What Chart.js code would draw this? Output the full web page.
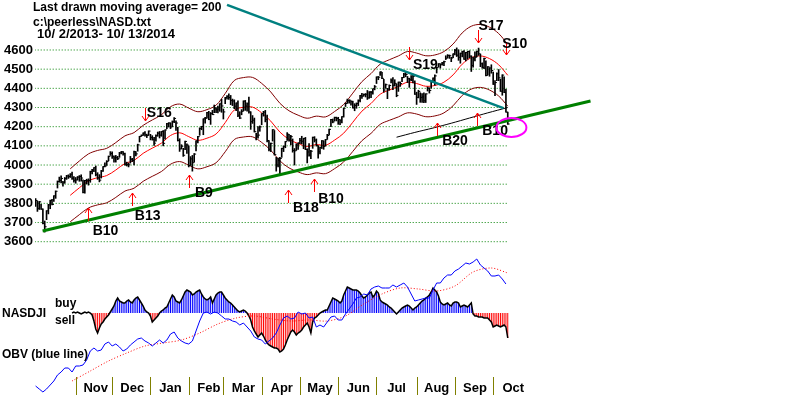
<!DOCTYPE html>
<html>
<head>
<meta charset="utf-8">
<title>NASD Peerless chart</title>
<script src="https://cdn.jsdelivr.net/npm/chart.js@4.4.1/dist/chart.umd.min.js"></script>
<style>
html,body{margin:0;padding:0;background:#ffffff;overflow:hidden;}
#box{position:relative;width:800px;height:395px;}
canvas{display:block;}
</style>
</head>
<body>
<div id="box"><canvas id="chart" width="800" height="395"></canvas></div>
<script>
// ---------------- DATA ----------------
const headerLines = ['Last drawn moving average= 200', 'c:\\peerless\\NASD.txt', '10/ 2/2013- 10/ 13/2014'];
const priceTicks = [3600,3700,3800,3900,4000,4100,4200,4300,4400,4500,4600];
const monthNames = ['Nov','Dec','Jan','Feb','Mar','Apr','May','Jun','Jul','Aug','Sep','Oct'];
const monthStartDay = [22,42,63,84,103,124,145,166,187,209,230,251];

// daily NASDAQ closes (trading day 0 = 10/2/2013)
const closes = [
3815,3774,3808,3770,3695,3678,3761,3792,3815,3794,3839,3863,3914,3920,3930,3907,3929,3943,3940,3952,3931,3920,
3922,3937,3940,3932,3857,3919,3920,3920,3966,3973,3986,3949,3932,3921,3969,3992,3995,4018,4045,4060,
4045,4037,4038,4033,4063,4069,4060,4004,4002,4001,4030,4024,4070,4058,4105,4149,4155,4167,4157,4154,4177,
4143,4132,4114,4153,4166,4156,4175,4113,4183,4215,4219,4198,4226,4243,4219,4128,4084,4098,4051,4123,4104,
3997,4032,4012,4057,4126,4148,4191,4201,4241,4244,4273,4238,4268,4263,4293,4288,4292,4319,4308,
4277,4352,4358,4352,4336,4334,4307,4323,4260,4245,4280,4333,4308,4319,4277,4226,4234,4174,4151,4156,4199,
4268,4276,4238,4128,4080,4113,4184,4054,4000,4023,4034,4086,4096,4122,4161,4127,4148,4076,4074,4104,4115,
4127,4124,4138,4081,4068,4052,4072,4144,4130,4101,4069,4091,4126,4097,4132,4154,4186,4237,4225,4248,4243,
4237,4234,4252,4296,4321,4336,4338,4332,4298,4311,4321,4337,4363,4359,4368,4369,4350,4380,4379,4398,4408,
4459,4458,4486,4452,4391,4419,4396,4415,4440,4416,4426,4363,4432,4425,4456,4474,4472,4450,4445,4443,4463,4370,
4353,4384,4353,4355,4335,4371,4401,4389,4434,4453,4465,4508,4528,4526,4532,4539,4557,4571,4570,4558,4580,
4598,4573,4562,4583,4592,4552,4587,4592,4568,4519,4553,4562,4593,4580,4528,4509,4555,4467,4512,4506,4493,
4422,4430,4476,4455,4385,4469,4378,4276,4214];

const highs = [
3825,3812,3810,3795,3771,3708,3762,3795,3817,3821,3840,3865,3917,3937,3943,3915,3935,3946,3949,3955,3963,3940,
3935,3940,3945,3949,3923,3920,3926,3928,3968,3977,3987,3995,3960,3950,3972,3992,4011,4023,4047,4070,
4069,4048,4050,4045,4066,4071,4070,4062,4015,4010,4045,4035,4073,4070,4109,4150,4157,4168,4175,4161,4178,
4160,4153,4145,4157,4172,4175,4175,4180,4183,4217,4221,4220,4230,4247,4231,4197,4137,4106,4087,4125,4110,
4100,4044,4050,4060,4126,4150,4194,4202,4241,4249,4275,4280,4274,4285,4313,4299,4307,4320,4343,
4292,4353,4362,4371,4363,4344,4340,4324,4335,4278,4289,4335,4337,4325,4354,4278,4258,4245,4166,4201,4204,
4268,4280,4285,4260,4127,4115,4185,4180,4040,4036,4040,4088,4100,4123,4169,4160,4155,4136,4086,4111,4116,
4139,4150,4140,4144,4085,4112,4077,4146,4148,4136,4102,4093,4128,4126,4134,4160,4187,4238,4240,4250,4250,
4249,4236,4253,4297,4323,4344,4340,4335,4333,4320,4324,4340,4364,4374,4371,4373,4389,4383,4384,4398,4415,
4460,4462,4486,4484,4447,4423,4400,4418,4450,4456,4445,4423,4433,4433,4458,4478,4486,4462,4453,4466,4474,4439,
4380,4390,4377,4373,4376,4372,4407,4403,4437,4455,4470,4510,4529,4527,4536,4542,4570,4576,4574,4562,4580,
4604,4611,4601,4584,4594,4597,4588,4593,4596,4570,4563,4590,4594,4610,4579,4533,4558,4543,4514,4508,4523,
4485,4440,4481,4498,4448,4471,4460,4395,4276];

const lows = [
3784,3758,3768,3768,3693,3650,3715,3745,3772,3792,3810,3826,3880,3910,3906,3890,3905,3925,3930,3935,3925,3910,
3905,3922,3915,3916,3855,3853,3902,3895,3910,3953,3965,3943,3925,3912,3932,3966,3990,3998,4022,4050,
4035,4015,4015,4028,4040,4058,4052,3999,3995,3990,4010,4018,4000,4048,4072,4120,4150,4155,4150,4143,4155,
4131,4130,4102,4125,4150,4141,4150,4100,4135,4190,4198,4190,4200,4221,4180,4125,4071,4084,4045,4080,4060,
3990,3998,3968,4015,4074,4115,4155,4184,4158,4218,4245,4236,4212,4263,4273,4273,4272,4280,4275,
4240,4320,4344,4342,4315,4310,4294,4283,4252,4242,4262,4282,4285,4281,4271,4186,4217,4172,4131,4140,4176,
4210,4255,4225,4121,4073,4070,4125,4052,3968,3990,3946,4040,4070,4090,4128,4125,4105,4067,4000,4076,4082,
4111,4110,4085,4080,4011,4046,4033,4087,4120,4099,4036,4058,4086,4082,4100,4134,4157,4200,4220,4230,4230,
4212,4211,4220,4250,4305,4322,4322,4312,4297,4283,4296,4310,4329,4347,4360,4355,4342,4348,4351,4369,4392,
4425,4445,4467,4450,4380,4400,4346,4390,4428,4393,4412,4356,4384,4410,4435,4455,4460,4430,4405,4440,4428,4368,
4316,4350,4327,4326,4325,4326,4386,4375,4401,4433,4416,4480,4512,4505,4521,4518,4550,4559,4556,4539,4560,
4574,4566,4546,4531,4564,4551,4543,4552,4560,4488,4511,4543,4564,4572,4513,4505,4502,4465,4470,4463,4479,
4420,4362,4440,4440,4384,4364,4377,4276,4212];

// 21-day moving average and its bands, read every 5 trading days
const bandDays = [19,24,29,34,39,44,49,54,59,64,69,74,79,84,89,94,99,104,109,114,119,124,129,134,139,144,149,154,159,164,169,174,179,184,189,194,199,204,209,214,219,224,229,234,239,244,249,254,259];
const maMid = [3842,3881,3917,3934,3945,3974,4008,4024,4061,4088,4114,4154,4168,4148,4129,4140,4162,4221,4287,4301,4302,4272,4229,4172,4134,4112,4097,4107,4103,4130,4166,4223,4281,4321,4369,4391,4410,4432,4425,4411,4415,4432,4470,4526,4560,4569,4555,4523,4468];
const bandUpper = [3980,4021,4058,4076,4087,4117,4152,4169,4207,4235,4262,4304,4318,4297,4278,4289,4312,4373,4441,4456,4457,4426,4381,4322,4283,4260,4244,4255,4251,4279,4316,4375,4435,4477,4526,4549,4569,4592,4584,4570,4574,4592,4631,4689,4724,4733,4719,4686,4629];
const bandLower = [3704,3741,3776,3792,3803,3831,3864,3879,3915,3941,3966,4004,4018,3999,3980,3991,4012,4069,4133,4146,4147,4118,4077,4022,3985,3964,3950,3959,3955,3981,4016,4071,4127,4165,4212,4233,4251,4272,4266,4252,4256,4272,4309,4363,4396,4405,4391,4360,4307];

// 200-day moving average
const ma200Days = [198,208,218,228,238,248,259];
const ma200 = [4145,4170,4193,4218,4245,4272,4300];

// trend lines (day, price)
const tealLine = [{day:105, price:4835},{day:256.6, price:4297}];
const greenLine = [{day:3.85, price:3656},{day:304.4, price:4334}];

// NASDJI indicator (first value at day 20)
const indStartDay = 20;
const nasdji = [
0,1,0,1,0,-1,0,1,0,1,
0,-2,-8,-16,-20,-15,-11,-9,-6,-4,
-2,1,4,7,12,15,12,11,10,10,
12,13,11,10,13,15,16,13,10,7,
3,1,0,-3,-9,-7,-5,-3,0,2,
3,5,6,10,14,18,16,12,11,10,
13,17,21,23,22,21,18,19,21,22,
23,19,16,14,13,14,16,10,14,18,
20,21,21,18,15,13,11,10,8,6,
4,2,1,2,3,2,0,-3,-7,-14,
-18,-21,-24,-22,-20,-23,-27,-30,-32,-33,
-34,-35,-35,-36,-39,-38,-36,-32,-27,-23,
-19,-17,-19,-22,-20,-19,-17,-14,-12,-10,
-14,-20,-9,-5,-4,-2,0,1,2,3,
3,7,11,15,14,13,12,10,12,18,
22,26,25,24,23,23,23,22,20,17,
15,16,18,20,21,16,18,22,20,13,
11,10,9,8,6,5,3,1,-1,1,
3,5,6,7,8,7,5,3,5,6,
8,10,12,13,15,16,18,21,25,23,
21,17,11,9,8,9,10,8,7,10,
11,11,10,6,7,8,7,6,8,10,
-1,-3,-3,-4,-4,-4,-5,-5,-5,-7,
-9,-14,-13,-12,-13,-14,-13,-12,-14,-25];

// OBV (blue line), every 2nd trading day
const obvStep = 2;
const obv = [14,11,8,11,15,19,25,28,32,32,
28,34,34,35,40,49,52,49,50,56,
58,54,56,53,49,51,55,58,61,62,
59,57,54,57,60,57,60,66,68,62,
59,57,56,59,69,79,87,88,86,88,
87,84,81,81,79,78,75,77,73,69,
63,61,60,56,59,62,67,75,82,84,
81,82,88,86,87,82,83,73,75,73,
78,83,84,80,80,86,91,96,102,103,
106,105,111,113,114,112,112,112,115,113,
115,117,113,106,99,100,101,102,102,110,
117,117,122,125,125,129,131,134,137,136,
138,141,135,132,129,124,124,125,121,116];
// OBV moving average (red dotted)
const obvMaDays = [20,30,40,50,60,70,80,90,100,110,120,130,140,150,160,170,180,190,200,210,220,230,240,250,259];
const obvMa = [19,29,39,47,54,57,60,67,76,82,84,81,79,80,79,84,96,106,112,111,109,114,128,132,127];

// Peerless signals: label, direction (+1 buy, -1 sell), arrow day / tip price, label day / price
const sigLabels = ['B10','B13','S16','B9','B18','B10','S19','B20','B10','S17','S10'];
const sigDir    = [1,1,-1,1,1,1,-1,1,1,-1,-1];
const sigDay    = [28.6,52.7,60,84,138.5,152.7,205,220.3,242.3,242.9,258.2];
const sigTip    = [3776,3854,4230,3948,3870,3927,4548,4219,4271,4637,4574];
const sigLabDay = [31.3,54.4,61,87.4,141.2,155,207,223,245,243,256];
const sigLabPr  = [3635,3713,4250,3833,3755,3802,4501,4104,4157,4704,4610];

// highlighted spot (magenta ellipse)
const markDay = 261, markPrice = 4196;

// ---------------- CHART ----------------
const FONT = '"Liberation Sans", Arial, Helvetica, sans-serif';
Chart.defaults.font.family = FONT;

// layout constants (px mapping of the reference)
const X_MIN = -0.329, X_MAX = 419.31;
const Y_MIN = 2800.3, Y_MAX = 4860.8;

const ds = [];
// dotted price grid lines
priceTicks.forEach(v => ds.push({
  type:'line', data:[{x:-0.5,y:v},{x:closes.length-0.5,y:v}], yAxisID:'y',
  borderColor:'#008000', borderWidth:1, borderDash:[1,2], pointRadius:0, order:30
}));
// NASDJI histogram
ds.push({
  type:'bar', yAxisID:'yInd', grouped:false, barThickness:1, inflateAmount:0, order:25,
  data: nasdji.map((v,k)=>({x:indStartDay+k, y:v})),
  backgroundColor: c => (c.raw && c.raw.y < 0) ? '#ff0000' : '#0000ff'
});
// NASDJI outline
ds.push({type:'line', yAxisID:'yInd', data: nasdji.map((v,k)=>({x:indStartDay+k, y:v})),
  borderColor:'#000000', borderWidth:1.5, pointRadius:0, tension:0, order:22});
// OBV MA
ds.push({type:'line', yAxisID:'yObv', data: obvMa.map((v,k)=>({x:obvMaDays[k], y:v})),
  borderColor:'#ff0000', borderWidth:1, borderDash:[1,2], pointRadius:0, tension:0.3, order:21});
// OBV
ds.push({type:'line', yAxisID:'yObv', data: obv.map((v,k)=>({x:k*obvStep, y:v})),
  borderColor:'#0000ff', borderWidth:1, pointRadius:0, tension:0, order:20});
// bands
ds.push({type:'line', yAxisID:'y', data: bandUpper.map((v,k)=>({x:bandDays[k], y:v})),
  borderColor:'#800000', borderWidth:1, pointRadius:0, tension:0.35, order:15});
ds.push({type:'line', yAxisID:'y', data: bandLower.map((v,k)=>({x:bandDays[k], y:v})),
  borderColor:'#800000', borderWidth:1, pointRadius:0, tension:0.35, order:15});
ds.push({type:'line', yAxisID:'y', data: maMid.map((v,k)=>({x:bandDays[k], y:v})),
  borderColor:'#ff0000', borderWidth:1, pointRadius:0, tension:0.35, order:14});
// 200-day MA
ds.push({type:'line', yAxisID:'y', data: ma200.map((v,k)=>({x:ma200Days[k], y:v})),
  borderColor:'#000000', borderWidth:1, pointRadius:0, tension:0.3, order:13});
// price bars (low-high)
ds.push({type:'bar', yAxisID:'y', grouped:false, barThickness:1, order:10,
  data: closes.map((c,i)=>({x:i, y:[lows[i], highs[i]]})), backgroundColor:'#000000'});
// close ticks
ds.push({type:'line', yAxisID:'y', showLine:false, order:9,
  data: closes.map((c,i)=>({x:i+0.5, y:c})),
  pointStyle:'line', pointRadius:1, pointBorderColor:'#000000', pointBorderWidth:1, borderColor:'#000000'});
// teal down trend line
ds.push({type:'line', yAxisID:'y', data: tealLine.map(p=>({x:p.day, y:p.price})),
  borderColor:'#008080', borderWidth:2.5, pointRadius:0, order:3, clip:false});
// green up trend line
ds.push({type:'line', yAxisID:'y', data: greenLine.map(p=>({x:p.day, y:p.price})),
  borderColor:'#008000', borderWidth:3, pointRadius:0, order:2, clip:false});

const overlay = {
  id:'overlay',
  afterDraw(chart){
    const ctx = chart.ctx, xs = chart.scales.x, ys = chart.scales.y;
    ctx.save();
    ctx.fillStyle = '#000';
    ctx.textBaseline = 'alphabetic';
    ctx.textAlign = 'left';
    // header
    ctx.font = 'bold 12px ' + FONT;
    ctx.fillText(headerLines[0], 33, 11);
    ctx.fillText(headerLines[1], 33, 26);
    ctx.font = 'bold 13px ' + FONT;
    ctx.fillText(headerLines[2], 37, 38);
    // lower panel labels
    ctx.font = 'bold 12px ' + FONT;
    ctx.fillText('NASDJI', 2, 317);
    ctx.fillText('buy', 55, 307);
    ctx.fillText('sell', 55, 324);
    ctx.fillText('OBV (blue line)', 2, 358);
    // month ticks + labels
    ctx.strokeStyle = '#808000'; ctx.lineWidth = 1;
    monthStartDay.forEach(d => {
      const px = Math.round(xs.getPixelForValue(d)) + 0.5;
      ctx.beginPath(); ctx.moveTo(px, 377); ctx.lineTo(px, 395); ctx.stroke();
    });
    ctx.font = 'bold 13px ' + FONT; ctx.textAlign = 'center';
    monthNames.forEach((m,i) => ctx.fillText(m, xs.getPixelForValue(monthStartDay[i] + 11), 392));
    // signals
    ctx.textAlign = 'left';
    ctx.font = 'bold 14px ' + FONT;
    ctx.strokeStyle = '#ff0000'; ctx.lineWidth = 1;
    sigLabels.forEach((t,i) => {
      const px = Math.round(xs.getPixelForValue(sigDay[i])) + 0.5;
      const tip = Math.round(ys.getPixelForValue(sigTip[i]));
      const dir = sigDir[i];
      const tail = tip + dir * 13;
      ctx.beginPath();
      ctx.moveTo(px, tip); ctx.lineTo(px, tail);
      ctx.moveTo(px - 3.5, tip + dir * 5); ctx.lineTo(px, tip); ctx.lineTo(px + 3.5, tip + dir * 5);
      ctx.stroke();
      ctx.fillStyle = '#000';
      ctx.fillText(t, xs.getPixelForValue(sigLabDay[i]), ys.getPixelForValue(sigLabPr[i]));
    });
    // magenta ellipse
    ctx.strokeStyle = '#ff00ff'; ctx.lineWidth = 2;
    ctx.beginPath();
    ctx.ellipse(xs.getPixelForValue(markDay), ys.getPixelForValue(markPrice), 15, 9.5, 0, 0, Math.PI*2);
    ctx.stroke();
    ctx.restore();
  }
};

new Chart(document.getElementById('chart'), {
  type:'bar',
  data:{datasets: ds},
  options:{
    responsive:false, animation:false, devicePixelRatio:1, events:[],
    layout:{padding:0, autoPadding:false},
    plugins:{legend:{display:false}, tooltip:{enabled:false}, title:{display:false}},
    scales:{
      x:{type:'linear', min:X_MIN, max:X_MAX, display:false, offset:false, grid:{offset:false}},
      y:{type:'linear', position:'left', min:Y_MIN, max:Y_MAX,
         afterBuildTicks: s => { s.ticks = priceTicks.map(v => ({value:v})); },
         afterFit: s => { s.width = 35; s.paddingTop = 0; s.paddingBottom = 0; },
         ticks:{autoSkip:false, padding:2, color:'#000', font:{family:FONT, size:13, weight:'bold'}, callback: v => String(v)},
         grid:{display:false, drawTicks:false}, border:{display:false}},
      yInd:{type:'linear', display:false, min:-82, max:313},
      yObv:{type:'linear', display:false, min:5, max:400}
    }
  },
  plugins:[overlay]
});
</script>
</body>
</html>
